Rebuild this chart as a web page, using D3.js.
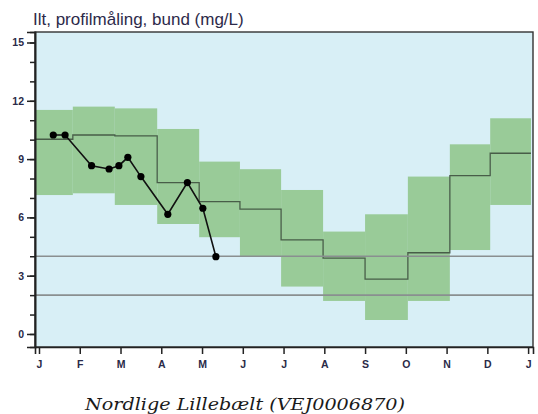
<!DOCTYPE html>
<html>
<head>
<meta charset="utf-8">
<script src="https://cdn.jsdelivr.net/npm/d3@7"></script>
<style>
  body { margin: 0; background: #fff; }
  svg { display: block; }
  .tick text { font-family: "Liberation Sans", Arial, sans-serif; font-size: 10.5px; font-weight: bold; fill: #2a2a48; }
</style>
</head>
<body>
<svg id="chart" width="538" height="414"></svg>
<script>
// month labels for the x axis (tick i = start of month i)
var monthLabels = ["J", "F", "M", "A", "M", "J", "J", "A", "S", "O", "N", "D", "J"];

// band edges in month units (12 blocks)
var bandEdges = [-0.19, 0.83, 1.86, 2.9, 3.93, 4.93, 5.94, 6.97, 8.0, 9.05, 10.08, 11.07, 12.07];
var bandLower = [7.15, 7.24, 6.64, 5.66, 4.98, 3.98, 2.44, 1.70, 0.72, 1.70, 4.32, 6.64];
var bandUpper = [11.53, 11.7, 11.61, 10.55, 8.87, 8.48, 7.41, 5.27, 6.16, 8.1, 9.76, 11.1];
var bandMedian = [10.02, 10.24, 10.19, 7.79, 6.81, 6.43, 4.84, 3.9, 2.82, 4.18, 8.15, 9.3];

// observations this year (month units, mg/L)
var obsMonth = [0.35, 0.64, 1.29, 1.72, 1.96, 2.18, 2.5, 3.16, 3.64, 4.02, 4.34];
var obsValue = [10.24, 10.24, 8.66, 8.49, 8.66, 9.09, 8.1, 6.16, 7.79, 6.47, 3.98];

// reference lines
var refLines = [4, 2];

var yMajor = [0, 3, 6, 9, 12, 15];
var yMinor = d3.range(0, 16);

var svg = d3.select("#chart");
var pLeft = 35, pRight = 533, pTop = 32, pBottom = 347;

var x = d3.scaleLinear().domain([-0.098, 12.12]).range([pLeft, pRight]);
var y = d3.scaleLinear().domain([-0.67, 15.54]).range([pBottom, pTop]);

svg.append("defs").append("clipPath").attr("id", "plotclip")
    .append("rect")
    .attr("x", pLeft).attr("y", pTop)
    .attr("width", pRight - pLeft).attr("height", pBottom - pTop);

svg.append("rect")
    .attr("x", pLeft).attr("y", pTop)
    .attr("width", pRight - pLeft).attr("height", pBottom - pTop)
    .attr("fill", "#d8eff6");

var plot = svg.append("g").attr("clip-path", "url(#plotclip)");

var bands = d3.range(bandLower.length);

plot.selectAll("rect.band")
    .data(bands)
    .join("rect")
    .attr("class", "band")
    .attr("x", function (i) { return x(bandEdges[i]); })
    .attr("width", function (i) { return x(bandEdges[i + 1]) - x(bandEdges[i]); })
    .attr("y", function (i) { return y(bandUpper[i]); })
    .attr("height", function (i) { return y(bandLower[i]) - y(bandUpper[i]); })
    .attr("fill", "#99cb98");

// median as a step line
var stepPts = [];
bands.forEach(function (i) {
    stepPts.push([bandEdges[i], bandMedian[i]]);
    stepPts.push([bandEdges[i + 1], bandMedian[i]]);
});
plot.append("path")
    .attr("d", d3.line().x(function (d) { return x(d[0]); }).y(function (d) { return y(d[1]); })(stepPts))
    .attr("fill", "none")
    .attr("stroke", "#3a4a3a")
    .attr("stroke-width", 1.3)
    .attr("stroke-opacity", 0.85);

plot.selectAll("line.ref")
    .data(refLines)
    .join("line")
    .attr("class", "ref")
    .attr("x1", pLeft).attr("x2", pRight)
    .attr("y1", function (d) { return y(d); })
    .attr("y2", function (d) { return y(d); })
    .attr("stroke", "#8a8f90")
    .attr("stroke-width", 1.6);

var obs = obsMonth.map(function (m, i) { return [m, obsValue[i]]; });
plot.append("path")
    .attr("d", d3.line().x(function (d) { return x(d[0]); }).y(function (d) { return y(d[1]); })(obs))
    .attr("fill", "none")
    .attr("stroke", "#111")
    .attr("stroke-width", 1.6);

plot.selectAll("circle.obs")
    .data(obs)
    .join("circle")
    .attr("class", "obs")
    .attr("cx", function (d) { return x(d[0]); })
    .attr("cy", function (d) { return y(d[1]); })
    .attr("r", 3.6)
    .attr("fill", "#000");

// frame
svg.append("rect")
    .attr("x", pLeft).attr("y", pTop)
    .attr("width", pRight - pLeft).attr("height", pBottom - pTop)
    .attr("fill", "none")
    .attr("stroke", "#333")
    .attr("stroke-width", 1.4);

// y axis
var yMinorAxis = svg.append("g")
    .attr("transform", "translate(" + pLeft + ",0)")
    .call(d3.axisLeft(y).tickValues(yMinor).tickSize(5).tickFormat(""));
var yAxis = svg.append("g")
    .attr("transform", "translate(" + pLeft + ",0)")
    .call(d3.axisLeft(y).tickValues(yMajor).tickSize(8).tickPadding(3));

// x axis
var xAxis = svg.append("g")
    .attr("transform", "translate(0," + pBottom + ")")
    .call(d3.axisBottom(x).tickValues(d3.range(13)).tickSize(7).tickPadding(7)
        .tickFormat(function (d) { return monthLabels[d]; }));

[yMinorAxis, yAxis, xAxis].forEach(function (g) {
    g.select(".domain").attr("stroke", "#222").attr("stroke-width", 1.6);
    g.selectAll(".tick line").attr("stroke", "#222").attr("stroke-width", 1.5);
});

svg.append("text")
    .attr("x", 33)
    .attr("y", 25)
    .attr("font-family", "Liberation Sans, Arial, sans-serif")
    .attr("font-size", 17)
    .attr("fill", "#2d2a4a")
    .text("Ilt, profilmåling, bund (mg/L)");

svg.append("text")
    .attr("x", 85)
    .attr("y", 410)
    .attr("font-family", "DejaVu Serif, serif")
    .attr("font-style", "italic")
    .attr("font-size", 17.5)
    .attr("textLength", 320)
    .attr("lengthAdjust", "spacingAndGlyphs")
    .attr("fill", "#1a1a1a")
    .text("Nordlige Lillebælt (VEJ0006870)");
</script>
</body>
</html>
